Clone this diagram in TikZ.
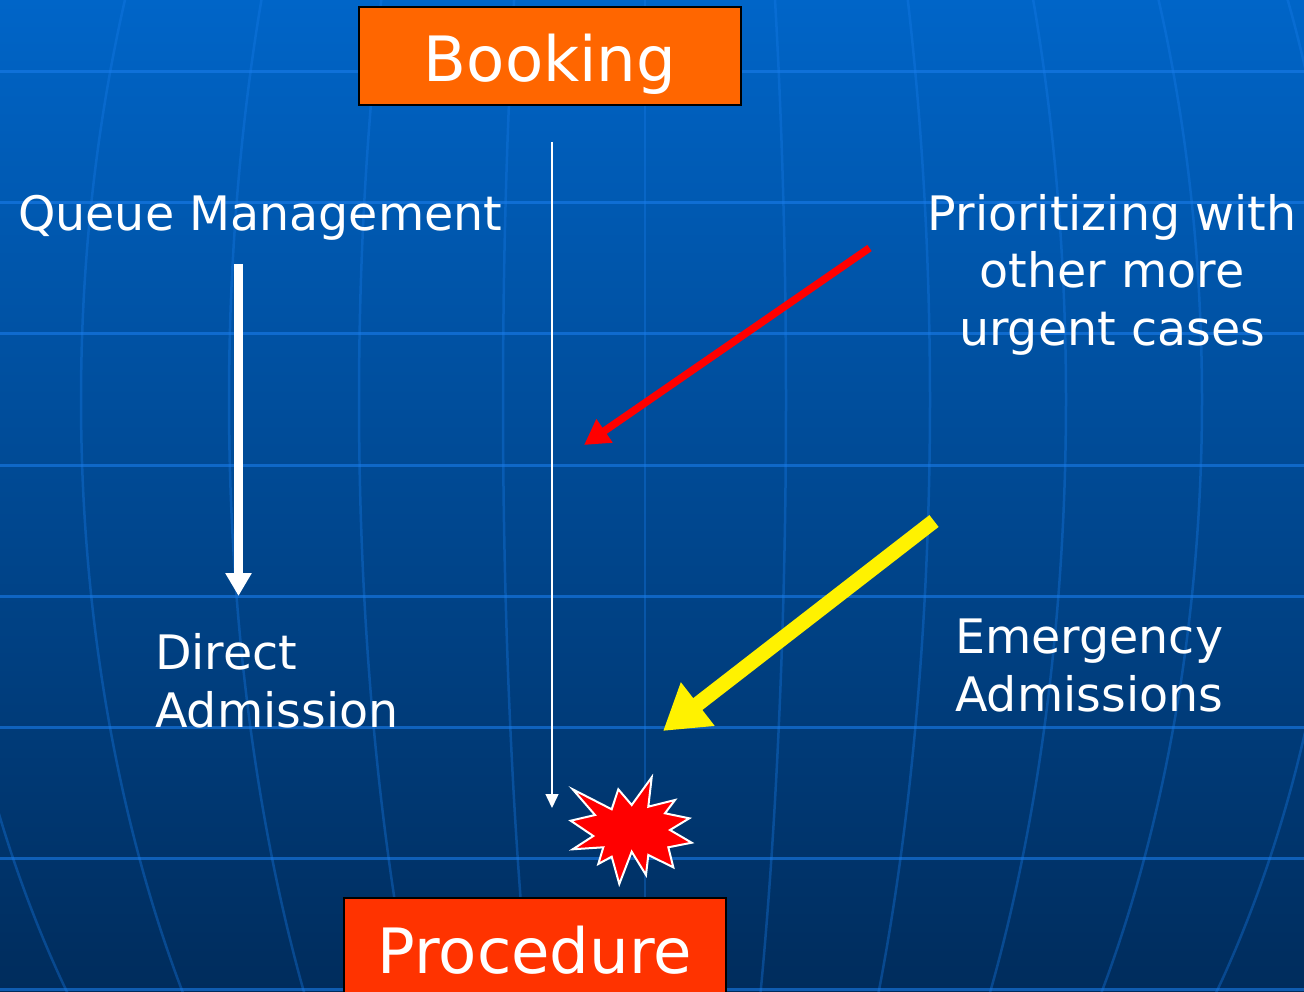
\documentclass[tikz,border=0pt]{standalone}
\usepackage{fontspec}
\setmainfont{DejaVu Sans}
\usetikzlibrary{arrows.meta}
\definecolor{bgtop}{RGB}{0,101,200}
\definecolor{bgmid}{RGB}{0,76,152}
\definecolor{bgbot}{RGB}{0,44,92}
\definecolor{gridblue}{RGB}{25,125,235}
\definecolor{bookorange}{RGB}{255,102,0}
\definecolor{procred}{RGB}{255,51,0}

\begin{document}
\begin{tikzpicture}[x=1pt,y=-1pt,
  lbl/.style={text=white, inner sep=0pt, font=\fontsize{47.5}{57.5}\selectfont},
  boxnode/.style={draw=black, line width=2.5pt, minimum width=382pt, inner sep=0pt,
    text=white, font=\fontsize{62.5}{70}\selectfont, text depth=0pt},
  hgrid/.style={gridblue, opacity=0.6, line width=3pt},
  mgrid/.style={gridblue, opacity=0.35, line width=2.5pt},
  flow/.style={white},
]
\useasboundingbox (0,0) rectangle (1304,992);

\begin{scope}
  \clip (0,0) rectangle (1304,992);
  % sky-blue backdrop fading to navy
  \shade[top color=bgtop, middle color=bgmid, bottom color=bgbot] (0,0) rectangle (1304,992);
  % globe grid: parallels
  \foreach \gy in {72,203,334,465,596,727,858,989}
    \draw[hgrid] (0,\gy) -- (1304,\gy);
  % globe grid: meridians
  \foreach \d in {-705,-564,-416,-286,-142,0,141,285,421,557,697}
    \draw[mgrid] plot[domain=-10:1002, samples=41, smooth]
      ({645 + \d*sqrt(1-((\x-400)/1034)^2)}, \x);

  % process boxes
  \node[boxnode, fill=bookorange, minimum height=98pt, text height=52pt] (booking) at (550,56) {Booking};
  \node[boxnode, fill=procred, minimum height=110pt, text height=40pt] (procedure) at (535,953) {Procedure};
\end{scope}

% labels (multi-line labels are placed by the baseline of their last line)
\node[lbl, anchor=base west] (queue) at (18,231) {Queue Management};
\node[lbl, anchor=base west, align=left] (direct) at (155,727) {Direct\\Admission};
\node[lbl, anchor=base west, align=left] (emerg) at (955,711) {Emergency\\Admissions};
\node[lbl, anchor=base, align=center] (prior) at (1112,345) {Prioritizing with\\other more\\urgent cases};

% arrow end points
\coordinate (mainS) at (552,142);
\coordinate (mainE) at (552,808);
\coordinate (queueS) at (238.5,264);
\coordinate (queueE) at (238.5,596);
\coordinate (prioS) at (869.5,248);
\coordinate (prioE) at (584,445);
\coordinate (emergS) at (934,521);
\coordinate (emergE) at (663,731);

% arrows
\draw[flow, line width=1.5pt, -{Triangle[length=14pt,width=13pt]}] (mainS) -- (mainE);
\draw[flow, line width=8.5pt, -{Triangle[length=23pt,width=25pt]}] (queueS) -- (queueE);
\draw[red, line width=7.5pt, -{Triangle[length=25pt,width=27pt]}] (prioS) -- (prioE);
\draw[yellow, line width=15pt, -{Triangle[length=44pt,width=52pt]}] (emergS) -- (emergE);

% collision burst
\draw[white, line width=2pt, fill=red, line join=miter]
  (572.7,789.3) -- (611.7,809.3) -- (618.3,789.3) -- (631.7,805) -- (651.7,777.3)
  -- (648.3,806.7) -- (675,800) -- (665,813.3) -- (689.3,818.3) -- (670,830)
  -- (691.7,842.7) -- (668.3,847.3) -- (673.3,867.3) -- (648.3,855) -- (646,875)
  -- (631.7,851.7) -- (619.3,884) -- (611.7,856.7) -- (598.3,864) -- (603.3,847.3)
  -- (572.7,849.3) -- (593.3,836) -- (570.7,820.7) -- (595,815) -- cycle;
\end{tikzpicture}
\end{document}
